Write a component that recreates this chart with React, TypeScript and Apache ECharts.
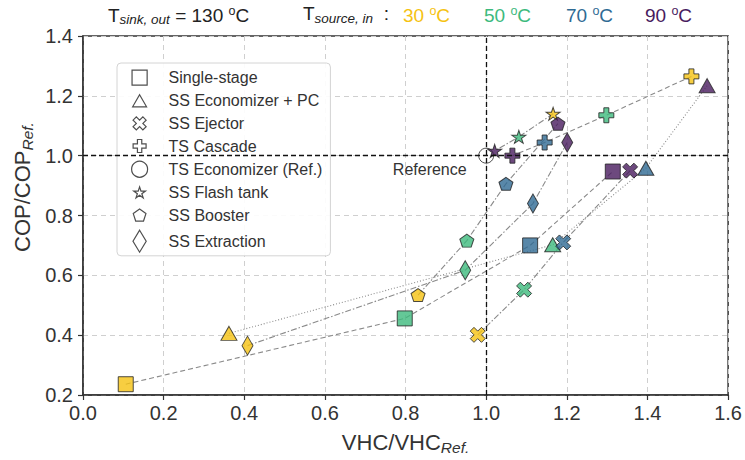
import React, { useEffect, useRef } from 'react';
import * as echarts from 'echarts';

// ---- data ----
const TEMP_LABELS = ['30', '50', '70', '90'];
const TEMP_COLORS = ['#f5c211', '#3dba7d', '#2f6a93', '#481b5e'];

const singleStageX = [0.106, 0.798, 1.109, 1.314];
const singleStageY = [0.236, 0.456, 0.700, 0.947];
const singleStageT = [0, 1, 2, 3];

const econPcX = [0.362, 1.165, 1.396, 1.548];
const econPcY = [0.406, 0.702, 0.958, 1.234];
const econPcT = [0, 1, 2, 3];

const ejectorX = [0.979, 1.094, 1.191, 1.357];
const ejectorY = [0.401, 0.552, 0.710, 0.950];
const ejectorT = [0, 1, 2, 3];

const cascadeX = [1.509, 1.298, 1.145, 1.065];
const cascadeY = [1.265, 1.135, 1.044, 1.0];
const cascadeT = [0, 1, 2, 3];

const refX = [1.0];
const refY = [1.0];

const flashX = [1.166, 1.081, 1.021];
const flashY = [1.140, 1.063, 1.016];
const flashT = [0, 1, 3];

const boosterX = [0.831, 0.952, 1.049, 1.178];
const boosterY = [0.534, 0.716, 0.906, 1.107];
const boosterT = [0, 1, 2, 3];

const extractionX = [0.408, 0.948, 1.116, 1.201];
const extractionY = [0.365, 0.617, 0.840, 1.044];
const extractionT = [0, 1, 2, 3];

const X_TICKS = [0, 0.2, 0.4, 0.6, 0.8, 1.0, 1.2, 1.4, 1.6];
const Y_TICKS = [0.2, 0.4, 0.6, 0.8, 1.0, 1.2, 1.4];
const REF_LABEL = { text: 'Reference', x: 0.86, y: 0.955 };

// ---- symbols ----
const SQUARE = 'path://M0,0 L1,0 L1,1 L0,1 Z';
const TRIANGLE = 'path://M1,0 L2,1.732 L0,1.732 Z';
const XMARK = 'path://M1,0 L2,1 L3,0 L4,1 L3,2 L4,3 L3,4 L2,3 L1,4 L0,3 L1,2 L0,1 Z';
const PLUS = 'path://M1,0 L2,0 L2,1 L3,1 L3,2 L2,2 L2,3 L1,3 L1,2 L0,2 L0,1 L1,1 Z';
const STAR_D = 'M1,0 L1.2245,0.691 L1.951,0.691 L1.3633,1.118 L1.588,1.809 L1,1.382 L0.412,1.809 L0.6367,1.118 L0.049,0.691 L0.7755,0.691 Z';
const PENT_D = 'M1,0 L1.951,0.691 L1.588,1.809 L0.412,1.809 L0.049,0.691 Z';
const STAR = 'path://' + STAR_D;
const PENT = 'path://' + PENT_D;
const DIAMOND = 'path://M0.6,0 L1.2,1 L0.6,2 L0,1 Z';
// legend versions (padded bounds so they keep the reference's icon size)
const L_SQUARE = 'path://M-0.03,-0.03 M1.03,1.03 M0,0 L1,0 L1,1 L0,1 Z';
const L_TRIANGLE = 'path://M-0.15,0 M2.15,0 M1,0 L2,1.732 L0,1.732 Z';
const L_XMARK = 'path://M-0.45,2 M4.45,2 M1,0 L2,1 L3,0 L4,1 L3,2 L4,3 L3,4 L2,3 L1,4 L0,3 L1,2 L0,1 Z';
const L_PLUS = 'path://M-0.35,1.5 M3.35,1.5 M1,0 L2,0 L2,1 L3,1 L3,2 L2,2 L2,3 L1,3 L1,2 L0,2 L0,1 L1,1 Z';
const L_STAR = 'path://M-0.3,0.9 M2.3,0.9 ' + STAR_D;
const L_PENT = 'path://M-0.2,0.9 M2.2,0.9 ' + PENT_D;

const FONT = '"Liberation Sans", Arial, Helvetica, sans-serif';
const EDGE = '#222';
const LINK = '#8a8a8a';

type Kind = {
  name: string;
  sym: string;
  legendIcon: string;
  size: number[];
  xs: number[];
  ys: number[];
  ts: number[];
  dash: number[] | null;
};

const KINDS: Kind[] = [
  { name: 'Single-stage', sym: SQUARE, legendIcon: L_SQUARE, size: [15, 15], xs: singleStageX, ys: singleStageY, ts: singleStageT, dash: [5, 3] },
  { name: 'SS Economizer + PC', sym: TRIANGLE, legendIcon: L_TRIANGLE, size: [16, 14], xs: econPcX, ys: econPcY, ts: econPcT, dash: [1, 2] },
  { name: 'SS Ejector', sym: XMARK, legendIcon: L_XMARK, size: [15, 15], xs: ejectorX, ys: ejectorY, ts: ejectorT, dash: [6, 2, 1.5, 2] },
  { name: 'TS Cascade', sym: PLUS, legendIcon: L_PLUS, size: [15, 15], xs: cascadeX, ys: cascadeY, ts: cascadeT, dash: [5, 3] },
  { name: 'TS Economizer (Ref.)', sym: 'circle', legendIcon: 'circle', size: [15, 15], xs: refX, ys: refY, ts: [-1], dash: null },
  { name: 'SS Flash tank', sym: STAR, legendIcon: L_STAR, size: [14, 13], xs: flashX, ys: flashY, ts: flashT, dash: [6, 2, 1.5, 2] },
  { name: 'SS Booster', sym: PENT, legendIcon: L_PENT, size: [14, 13], xs: boosterX, ys: boosterY, ts: boosterT, dash: [6, 2, 1.5, 2] },
  { name: 'SS Extraction', sym: DIAMOND, legendIcon: DIAMOND, size: [11, 19], xs: extractionX, ys: extractionY, ts: extractionT, dash: [6, 2, 1.5, 2] },
];

function buildOption() {
  const series: any[] = [];

  // reference dashed lines + label
  series.push({
    type: 'line',
    name: '__ref',
    data: [],
    z: 1,
    silent: true,
    markLine: {
      silent: true,
      symbol: 'none',
      animation: false,
      label: { show: false },
      lineStyle: { color: '#111', type: [5, 3], width: 1.3 },
      data: [{ yAxis: refY[0] }, { xAxis: refX[0] }],
    },
    markPoint: {
      silent: true,
      animation: false,
      data: [
        {
          coord: [REF_LABEL.x, REF_LABEL.y],
          symbol: 'circle',
          symbolSize: 0,
          label: {
            show: true,
            position: 'inside',
            formatter: REF_LABEL.text,
            fontSize: 16,
            fontFamily: FONT,
            color: '#333',
          },
        },
      ],
    },
  });

  KINDS.forEach((k) => {
    const pts = k.xs.map((x, i) => [x, k.ys[i]]);
    if (k.dash && pts.length > 1) {
      series.push({
        type: 'line',
        name: k.name + ' link',
        data: pts,
        symbol: 'none',
        showSymbol: false,
        silent: true,
        z: 2,
        lineStyle: { color: LINK, width: 1.1, type: k.dash },
      });
    }
    series.push({
      type: 'scatter',
      name: k.name,
      symbol: k.sym,
      symbolSize: k.size,
      z: k.name.startsWith('TS Economizer') ? 3 : 4,
      itemStyle: { borderColor: EDGE, borderWidth: 1 },
      data: pts.map((p, i) => ({
        value: p,
        itemStyle: { color: k.ts[i] >= 0 ? TEMP_COLORS[k.ts[i]] : '#ffffff' },
      })),
    });
  });

  const mainStyle = { fontSize: 19, fontFamily: FONT, fill: '#222' };
  const subStyle = { fontSize: 13.5, fontFamily: FONT, fontStyle: 'italic', fill: '#222', padding: [9, 0, 0, 0] };
  const supStyle = { fontSize: 12.5, fontFamily: FONT, fill: '#222', padding: [0, 0, 9, 0] };

  const tempTexts = TEMP_LABELS.map((t, i) => ({
    type: 'text',
    left: [403, 484, 566, 645][i],
    top: 4,
    style: {
      text: `{m|${t} }{p|o}{m|C}`,
      rich: {
        m: { ...mainStyle, fill: TEMP_COLORS[i] },
        p: { ...supStyle, fill: TEMP_COLORS[i] },
      },
    },
  }));

  return {
    animation: false,
    backgroundColor: '#ffffff',
    grid: {
      left: 83,
      right: 13,
      top: 36,
      bottom: 62,
      show: true,
      borderColor: '#333',
      borderWidth: 1.5,
      backgroundColor: 'transparent',
    },
    xAxis: {
      type: 'value',
      min: X_TICKS[0],
      max: X_TICKS[X_TICKS.length - 1],
      interval: 0.2,
      axisLine: { show: true, lineStyle: { color: '#333', width: 1.5 } },
      axisTick: { show: true, length: 5, lineStyle: { color: '#333', width: 1.2 } },
      axisLabel: {
        fontSize: 20,
        fontFamily: FONT,
        color: '#333',
        margin: 8,
        formatter: (v: number) => v.toFixed(1),
      },
      splitLine: { show: true, lineStyle: { color: '#cfcfcf', type: [5, 4], width: 1 } },
      name: 'VHC/VHC{s|Ref.}',
      nameLocation: 'middle',
      nameGap: 34,
      nameTextStyle: {
        fontSize: 22,
        fontFamily: FONT,
        color: '#333',
        rich: {
          s: { fontSize: 15.5, fontStyle: 'italic', fontFamily: FONT, color: '#333', padding: [10, 0, 0, 0] },
        },
      },
    },
    yAxis: {
      type: 'value',
      min: Y_TICKS[0],
      max: Y_TICKS[Y_TICKS.length - 1],
      interval: 0.2,
      axisLine: { show: true, lineStyle: { color: '#333', width: 1.5 } },
      axisTick: { show: true, length: 5, lineStyle: { color: '#333', width: 1.2 } },
      axisLabel: {
        fontSize: 20,
        fontFamily: FONT,
        color: '#333',
        margin: 10,
        formatter: (v: number) => v.toFixed(1),
      },
      splitLine: { show: true, lineStyle: { color: '#cfcfcf', type: [5, 4], width: 1 } },
    },
    legend: {
      orient: 'vertical',
      left: 117,
      top: 63,
      padding: [6, 8, 3, 14],
      itemWidth: 16,
      itemHeight: 22,
      itemGap: 6.6,
      symbolKeepAspect: true,
      backgroundColor: 'rgba(255,255,255,0.9)',
      borderColor: '#d4d4d4',
      borderWidth: 1,
      borderRadius: 4,
      textStyle: { fontSize: 16, fontFamily: FONT, color: '#333', padding: [0, 0, 0, 16] },
      data: KINDS.map((k) => ({
        name: k.name,
        icon: k.legendIcon,
        itemStyle: { color: '#ffffff', borderColor: EDGE, borderWidth: 1.2 },
      })),
      selectedMode: false,
    },
    graphic: [
      {
        type: 'text',
        left: 108,
        top: 4,
        style: {
          text: '{m|T}{s|sink, out}{m| = 130 }{p|o}{m|C}',
          rich: { m: mainStyle, s: subStyle, p: supStyle },
        },
      },
      {
        type: 'text',
        left: 303,
        top: 4,
        style: {
          text: '{m|T}{s|source, in}{m|  :}',
          rich: { m: mainStyle, s: subStyle, p: supStyle },
        },
      },
      ...tempTexts,
      {
        type: 'text',
        x: 22,
        y: 187,
        rotation: Math.PI / 2,
        style: {
          text: '{m|COP/COP}{s|Ref.}',
          align: 'center',
          verticalAlign: 'middle',
          rich: {
            m: { fontSize: 22, fontFamily: FONT, fill: '#333' },
            s: { fontSize: 15.5, fontStyle: 'italic', fontFamily: FONT, fill: '#333', padding: [10, 0, 0, 0] },
          },
        },
      },
    ],
    series,
  };
}

export default function App() {
  const ref = useRef<HTMLDivElement>(null);
  useEffect(() => {
    if (!ref.current) return;
    const chart = echarts.init(ref.current, null, { renderer: 'svg' });
    chart.setOption(buildOption() as any);
    return () => chart.dispose();
  }, []);
  return (
    <div
      ref={ref}
      style={{ width: 745, height: 460, position: 'absolute', left: 0, top: 0, background: '#fff' }}
    />
  );
}
